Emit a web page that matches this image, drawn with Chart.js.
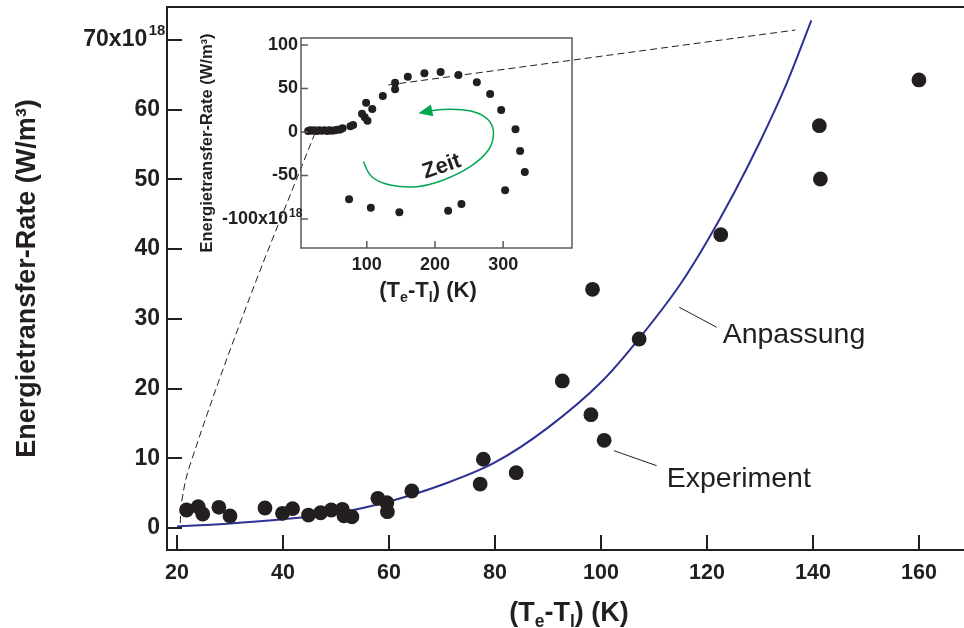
<!DOCTYPE html>
<html><head><meta charset="utf-8">
<script src="https://cdn.jsdelivr.net/npm/chart.js@4.4.1/dist/chart.umd.min.js"></script>
<style>html,body{margin:0;padding:0;background:#fff;}#wrap{position:relative;width:964px;height:628px;}canvas{position:absolute;left:0;top:0;}</style>
</head><body><div id="wrap"><canvas id="main" width="964" height="628"></canvas><canvas id="inset" width="964" height="628"></canvas></div>
<script>
const FONT = "'Liberation Sans', Arial, Helvetica, sans-serif";
const INK = '#231f20';
const BLUE = '#2e3192';
const GREEN = '#00a651';

// ---- main chart data: Experiment ----
const expX = [21.8, 24.0, 24.85, 27.9, 30.0, 36.6, 39.9, 41.8, 44.8, 47.1, 49.1, 51.2, 51.5, 53.0, 57.9, 59.6, 59.7, 64.3, 77.2, 77.8, 84.0, 92.7, 98.1, 98.4, 100.6, 107.2, 122.6, 141.2, 141.4, 160.0];
const expY = [2.58, 3.06, 2.01, 2.97, 1.72, 2.87, 2.11, 2.77, 1.86, 2.19, 2.58, 2.68, 1.76, 1.61, 4.26, 3.63, 2.34, 5.31, 6.30, 9.86, 7.93, 21.09, 16.25, 34.24, 12.58, 27.11, 42.07, 57.71, 50.06, 64.27];
// ---- main chart data: Anpassung (fit curve) ----
const fitX = [20, 30, 40, 50, 60, 70, 80, 90, 100, 107, 115, 120, 125, 130, 135, 139.7];
const fitY = [0.2, 0.65, 1.25, 2.1, 3.8, 6.2, 9.4, 14.4, 20.9, 27.0, 35.0, 41.1, 47.9, 55.4, 63.7, 72.8];
const mainXTicks = [20, 40, 60, 80, 100, 120, 140, 160];
const mainYTicks = [0, 10, 20, 30, 40, 50, 60, 70];
// connector (zoom) dashed lines in main-chart data units
const zoomAX = [59.9, 136.7], zoomAY = [63.55, 71.43];
const zoomBX = [46.04, 32.83, 22.45, 20.94, 20.57], zoomBY = [56.66, 31.27, 9.04, 4.02, 0.14];

// ---- inset data ----
const insetX = [14, 17, 20, 23, 27, 30, 34, 38, 42, 45, 49, 53, 57, 61, 64.5, 76, 80, 93, 97, 101, 99, 108, 123.5, 141.5, 141.5, 160.2, 184.5, 208.3, 234.4, 261.4, 280.9, 297.1, 318.1, 324.9, 331.8, 302.9, 238.8, 219.3, 147.8, 105.9, 74.0];
const insetY = [1, 2, 1.5, 2, 1, 2, 1.5, 2, 1, 2, 1.5, 2, 2.5, 3, 4.3, 6.5, 8, 21, 17, 13, 33.7, 26.4, 41.4, 56.7, 49.1, 63.6, 67.5, 69, 65.5, 57.1, 43.7, 25.3, 3.1, -21.8, -46, -67, -82.8, -90.5, -92.3, -87, -77.4];
const insetXTicks = [100, 200, 300];
const insetYTicks = [-100, -50, 0, 50, 100];
// "Zeit" arrow path in inset data units
const arrowX = [95.0, 107.3, 134.2, 173.4, 212.4, 251.6, 278.4, 285.8, 278.4, 256.4, 222.2, 195.8];
const arrowY = [-34.1, -51.4, -60.9, -62.9, -55.2, -39.9, -20.7, -1.5, 13.8, 23.3, 26.1, 24.7];
const arrowTip = [175.7, 21.5];

const pts = (xs, ys) => xs.map((x, i) => ({x, y: ys[i]}));
const noPad = s => { s.paddingTop = 0; s.paddingBottom = 0; s.paddingLeft = 0; s.paddingRight = 0; };

function drawSubTitle(ctx, cx, base, size) {
  const parts = [['(T', 0], ['e', 1], ['-T', 0], ['l', 1], [') (K)', 0]];
  const sub = size * 0.65;
  let total = 0;
  const widths = parts.map(([t, s]) => { ctx.font = `bold ${s ? sub : size}px ${FONT}`; const w = ctx.measureText(t).width; total += w; return w; });
  let x = cx - total / 2;
  ctx.textAlign = 'left'; ctx.textBaseline = 'alphabetic'; ctx.fillStyle = INK;
  parts.forEach(([t, s], i) => {
    ctx.font = `bold ${s ? sub : size}px ${FONT}`;
    ctx.fillText(t, x, s ? base + size * 0.22 : base);
    x += widths[i];
  });
}

const mainDeco = {
  id: 'mainDeco',
  afterDraw(chart) {
    const {ctx, chartArea: ca, scales: {x, y}} = chart;
    ctx.save();
    ctx.strokeStyle = INK; ctx.lineWidth = 2;
    ctx.beginPath(); ctx.moveTo(ca.left - 1, ca.top); ctx.lineTo(ca.right, ca.top); ctx.stroke();
    ctx.beginPath();
    mainXTicks.forEach(v => { const p = Math.round(x.getPixelForValue(v)); ctx.moveTo(p, ca.bottom); ctx.lineTo(p, ca.bottom - 15); });
    mainYTicks.forEach(v => { const p = Math.round(y.getPixelForValue(v)); ctx.moveTo(ca.left, p); ctx.lineTo(ca.left + 15, p); });
    ctx.stroke();
    // superscript of 70x10^18
    ctx.font = `bold 23px ${FONT}`;
    const sp = ctx.measureText('  ').width;
    const xr = ca.left - 7 - sp;
    ctx.font = `bold 15px ${FONT}`; ctx.fillStyle = INK; ctx.textAlign = 'left'; ctx.textBaseline = 'alphabetic';
    ctx.fillText('18', xr + 1.5, y.getPixelForValue(70) - 5);
    // x title
    drawSubTitle(ctx, (ca.left + ca.right) / 2 + 3.5, 621, 27);
    // labels with leader lines
    ctx.lineWidth = 1; ctx.strokeStyle = INK;
    ctx.beginPath();
    ctx.moveTo(x.getPixelForValue(114.77), y.getPixelForValue(31.66)); ctx.lineTo(x.getPixelForValue(121.83), y.getPixelForValue(28.79));
    ctx.moveTo(x.getPixelForValue(102.45), y.getPixelForValue(11.09)); ctx.lineTo(x.getPixelForValue(110.5), y.getPixelForValue(8.94));
    ctx.stroke();
    ctx.font = `28.5px ${FONT}`;
    ctx.fillText('Anpassung', x.getPixelForValue(122.96), y.getPixelForValue(26.58));
    ctx.fillText('Experiment', x.getPixelForValue(112.4), y.getPixelForValue(5.88));
    ctx.restore();
  }
};

new Chart(document.getElementById('main'), {
  type: 'scatter',
  data: { datasets: [
    {type: 'line', data: pts(zoomAX, zoomAY), borderColor: INK, borderWidth: 1, borderDash: [7, 4], pointRadius: 0, fill: false, order: 3},
    {type: 'line', data: pts(zoomBX, zoomBY), borderColor: INK, borderWidth: 1, borderDash: [7, 4], pointRadius: 0, fill: false, tension: 0.4, order: 3},
    {type: 'line', data: pts(fitX, fitY), borderColor: BLUE, borderWidth: 2, pointRadius: 0, fill: false, cubicInterpolationMode: 'monotone', order: 2},
    {type: 'scatter', data: pts(expX, expY), backgroundColor: INK, borderColor: INK, borderWidth: 0, pointRadius: 7.4, order: 1}
  ]},
  options: {
    responsive: false, animation: false, devicePixelRatio: 1,
    layout: {autoPadding: false, padding: {top: 7, right: 0, bottom: 0, left: 0}},
    plugins: {legend: {display: false}, tooltip: {enabled: false}},
    scales: {
      x: {type: 'linear', min: 18.11, max: 168.5,
        afterBuildTicks: s => { s.ticks = mainXTicks.map(v => ({value: v})); },
        afterFit: s => { s.height = 78; noPad(s); },
        grid: {display: false, drawTicks: false}, border: {display: true, color: INK, width: 2},
        ticks: {padding: 10, color: INK, autoSkip: false, maxRotation: 0, font: {family: FONT, size: 21.5, weight: 'bold'}}},
      y: {type: 'linear', min: -3.156, max: 74.73,
        afterBuildTicks: s => { s.ticks = mainYTicks.map(v => ({value: v})); },
        afterFit: s => { s.width = 167; noPad(s); },
        grid: {display: false, drawTicks: false}, border: {display: true, color: INK, width: 2},
        ticks: {padding: 7, color: INK, autoSkip: false, font: {family: FONT, size: 23, weight: 'bold'}, callback: v => v === 70 ? '70x10  ' : String(v)},
        title: {display: true, text: 'Energietransfer-Rate (W/m³)', color: INK, padding: {top: 11, bottom: 0}, font: {family: FONT, size: 27, weight: 'bold'}}}
    }
  },
  plugins: [mainDeco]
});

function smoothPath(ctx, p) {
  ctx.moveTo(p[0][0], p[0][1]);
  for (let i = 0; i < p.length - 1; i++) {
    const p0 = p[i - 1] || p[i], p1 = p[i], p2 = p[i + 1], p3 = p[i + 2] || p2;
    ctx.bezierCurveTo(p1[0] + (p2[0] - p0[0]) / 6, p1[1] + (p2[1] - p0[1]) / 6, p2[0] - (p3[0] - p1[0]) / 6, p2[1] - (p3[1] - p1[1]) / 6, p2[0], p2[1]);
  }
}

const GRAY = '#58595b';
const insetDeco = {
  id: 'insetDeco',
  afterDraw(chart) {
    const {ctx, chartArea: ca, scales: {x, y}} = chart;
    ctx.save();
    ctx.strokeStyle = GRAY; ctx.lineWidth = 1.5;
    ctx.strokeRect(ca.left, ca.top, ca.right - ca.left, ca.bottom - ca.top);
    ctx.beginPath();
    insetXTicks.forEach(v => { const p = x.getPixelForValue(v); ctx.moveTo(p, ca.bottom); ctx.lineTo(p, ca.bottom - 7); });
    insetYTicks.forEach(v => { const p = y.getPixelForValue(v); ctx.moveTo(ca.left, p); ctx.lineTo(ca.left + 7, p); });
    ctx.stroke();
    // superscript of -100x10^18
    ctx.font = `bold 18px ${FONT}`;
    const sp = ctx.measureText('  ').width;
    const xr = ca.left - 3 - sp;
    ctx.font = `bold 12px ${FONT}`; ctx.fillStyle = INK; ctx.textAlign = 'left'; ctx.textBaseline = 'alphabetic';
    ctx.fillText('18', xr + 1, y.getPixelForValue(-100) - 2.5);
    // y title
    ctx.save();
    ctx.translate(207, (ca.top + ca.bottom) / 2);
    ctx.rotate(-Math.PI / 2);
    ctx.font = `bold 16.5px ${FONT}`; ctx.textAlign = 'center'; ctx.textBaseline = 'middle';
    ctx.fillText('Energietransfer-Rate (W/m³)', 0, 0);
    ctx.restore();
    // x title
    drawSubTitle(ctx, (ca.left + ca.right) / 2 - 8.5, ca.bottom + 49, 22);
    // Zeit arrow
    const ap = arrowX.map((v, i) => [x.getPixelForValue(v), y.getPixelForValue(arrowY[i])]);
    ctx.strokeStyle = GREEN; ctx.lineWidth = 1.5;
    ctx.beginPath(); smoothPath(ctx, ap); ctx.stroke();
    const tip = [x.getPixelForValue(arrowTip[0]), y.getPixelForValue(arrowTip[1])];
    const base = ap[ap.length - 1];
    let dx = base[0] - tip[0], dy = base[1] - tip[1];
    const L = Math.hypot(dx, dy); dx /= L; dy /= L;
    ctx.fillStyle = GREEN;
    ctx.beginPath();
    ctx.moveTo(tip[0], tip[1]);
    ctx.lineTo(base[0] - dy * 6, base[1] + dx * 6);
    ctx.lineTo(base[0] + dy * 6, base[1] - dx * 6);
    ctx.closePath(); ctx.fill();
    // Zeit text
    ctx.save();
    ctx.translate(x.getPixelForValue(210), y.getPixelForValue(-39.9));
    ctx.rotate(-0.33);
    ctx.fillStyle = INK; ctx.font = `bold 22px ${FONT}`; ctx.textAlign = 'center'; ctx.textBaseline = 'middle';
    ctx.fillText('Zeit', 0, 0);
    ctx.restore();
    ctx.restore();
  }
};

new Chart(document.getElementById('inset'), {
  type: 'scatter',
  data: { datasets: [
    {data: pts(insetX, insetY), backgroundColor: INK, borderColor: INK, borderWidth: 0, pointRadius: 4}
  ]},
  options: {
    responsive: false, animation: false, devicePixelRatio: 1,
    layout: {autoPadding: false, padding: {top: 38, right: 392, bottom: 0, left: 0}},
    plugins: {legend: {display: false}, tooltip: {enabled: false}},
    scales: {
      x: {type: 'linear', min: 3.5, max: 401,
        afterBuildTicks: s => { s.ticks = insetXTicks.map(v => ({value: v})); },
        afterFit: s => { s.height = 380; noPad(s); },
        grid: {display: false, drawTicks: false}, border: {display: false},
        ticks: {padding: 6, color: INK, autoSkip: false, maxRotation: 0, font: {family: FONT, size: 18, weight: 'bold'}}},
      y: {type: 'linear', min: -133.3, max: 108,
        afterBuildTicks: s => { s.ticks = insetYTicks.map(v => ({value: v})); },
        afterFit: s => { s.width = 301; noPad(s); },
        grid: {display: false, drawTicks: false}, border: {display: false},
        ticks: {padding: 3, color: INK, autoSkip: false, font: {family: FONT, size: 18, weight: 'bold'}, callback: v => v === -100 ? '-100x10  ' : String(v)}}
    }
  },
  plugins: [insetDeco]
});
</script>
</body></html>
